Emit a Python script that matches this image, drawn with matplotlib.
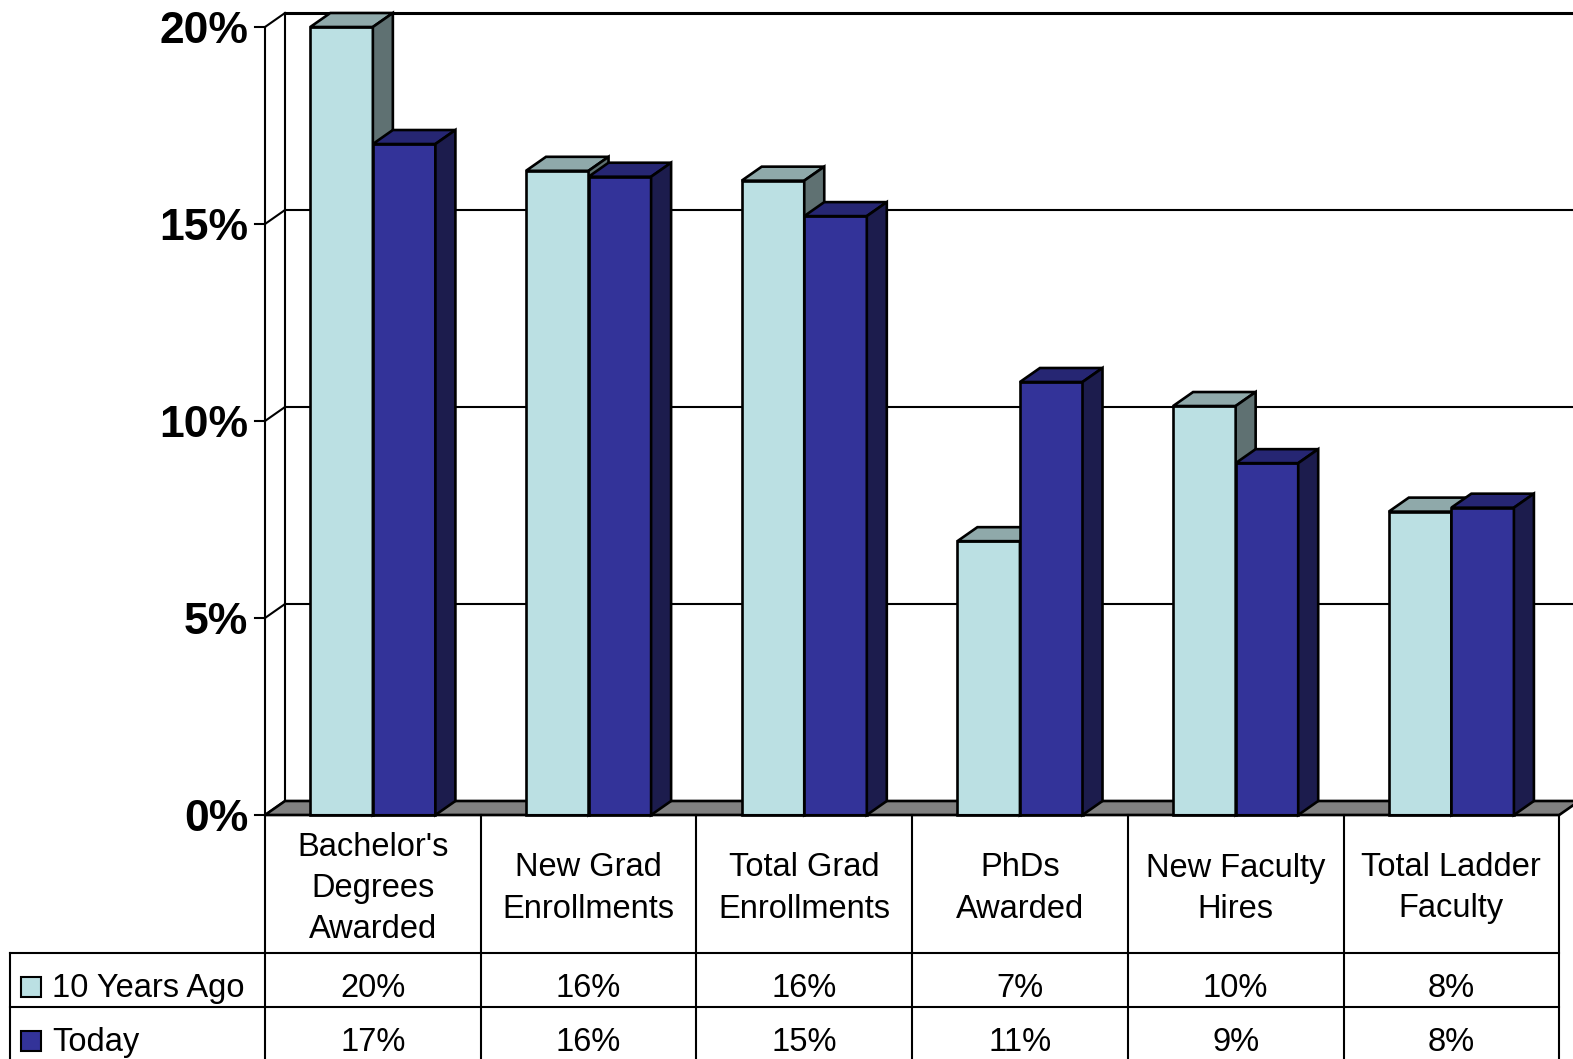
import matplotlib.pyplot as plt
from matplotlib.patches import Polygon, Rectangle

plt.rcParams['font.family'] = ['Liberation Sans', 'DejaVu Sans']

# data (percent)
categories = ["Bachelor's\nDegrees\nAwarded", "New Grad\nEnrollments", "Total Grad\nEnrollments",
              "PhDs\nAwarded", "New Faculty\nHires", "Total Ladder\nFaculty"]
series_names = ["10 Years Ago", "Today"]
ten_years_ago = [20.0, 16.35, 16.1, 6.95, 10.38, 7.7]
today = [17.03, 16.2, 15.2, 10.99, 8.93, 7.8]
y_ticks = [0, 5, 10, 15, 20]
y_tick_labels = ["0%", "5%", "10%", "15%", "20%"]

# colours: front, top, side
light = ("#bbe0e3", "#8fa9aa", "#5f7172")
dark = ("#333399", "#262673", "#1c1c4d")
floor_color = "#808080"

# layout in pixels
W, H = 1573, 1059
X0, CW = 265.0, 215.7      # left of plot, width of one category
Y0, PPP = 815.0, 39.4      # pixel row of 0%, pixels per percent
DX, DY = 20, 14            # depth offset of the 3d effect
LW = 1.5
BAR_LW = 1.9

fig = plt.figure(figsize=(W / 100, H / 100), dpi=100, facecolor="white")
ax = fig.add_axes([0, 0, 1, 1])
ax.set_xlim(-0.5 - X0 / CW, -0.5 + (W - X0) / CW)
ax.set_ylim(-(H - Y0) / PPP, Y0 / PPP)
ax.axis("off")

ddx = DX / CW
ddy = DY / PPP
n = len(categories)
left, right = -0.5, n - 0.5
top = max(y_ticks)
bw = 0.29

# left wall and back wall gridlines
ax.plot([left, left], [0, top], color="k", lw=LW, zorder=1)
ax.plot([left + ddx, left + ddx], [ddy, top + ddy], color="k", lw=LW, zorder=1)
for v in y_ticks:
    ax.plot([left, left + ddx], [v, v + ddy], color="k", lw=LW, zorder=1)
    ax.plot([left + ddx, right + ddx], [v + ddy, v + ddy], color="k",
            lw=2.2 if v == top else LW, zorder=1)
    ax.plot([left - 10 / CW, left], [v, v], color="k", lw=LW, zorder=1)
for v, lbl in zip(y_ticks, y_tick_labels):
    ax.annotate(lbl, xy=(left, v), xytext=(-17, 0), textcoords="offset pixels",
                ha="right", va="center_baseline", fontsize=32, fontweight="bold")

# floor
ax.add_patch(Polygon([(left, 0), (left + ddx, ddy), (right + ddx, ddy), (right, 0)],
                     closed=True, fc=floor_color, ec="k", lw=BAR_LW, zorder=1.5))


def draw_bar(x, h, colors):
    front, topc, side = colors
    ax.add_patch(Rectangle((x, 0), bw, h, fc=front, ec="k", lw=BAR_LW, zorder=2))
    ax.add_patch(Polygon([(x, h), (x + ddx, h + ddy), (x + bw + ddx, h + ddy), (x + bw, h)],
                         closed=True, fc=topc, ec="k", lw=BAR_LW, zorder=2))
    ax.add_patch(Polygon([(x + bw, 0), (x + bw + ddx, ddy), (x + bw + ddx, h + ddy), (x + bw, h)],
                         closed=True, fc=side, ec="k", lw=BAR_LW, zorder=2))


for i, (a, b) in enumerate(zip(ten_years_ago, today)):
    draw_bar(i - bw, a, light)
    draw_bar(i, b, dark)

# data table below the chart, in pixel coordinates
tab = fig.add_axes([0, 0, 1, 1])
tab.set_xlim(0, W)
tab.set_ylim(H, 0)
tab.axis("off")
tab.patch.set_alpha(0)

x_right = X0 + n * CW
row_tops = [953, 1007, 1061]
tab.plot([X0, x_right], [Y0, Y0], color="k", lw=LW)
for y in row_tops:
    tab.plot([10, x_right], [y, y], color="k", lw=LW)
tab.plot([10, 10], [row_tops[0], H + 5], color="k", lw=LW)
for i in range(n + 1):
    xc = X0 + i * CW
    tab.plot([xc, xc], [Y0, H + 5], color="k", lw=LW)

FS = 23.5
LINE = 41
for i, cat in enumerate(categories):
    xc = X0 + (i + 0.5) * CW
    lines = cat.split("\n")
    for j, line in enumerate(lines):
        yb = 897 + (j - (len(lines) - 1) / 2) * LINE
        tab.text(xc, yb, line, ha="center", va="baseline", fontsize=FS)

for r, (name, vals, colors) in enumerate(zip(series_names, [ten_years_ago, today], [light, dark])):
    yb = row_tops[r] + 44
    tab.add_patch(Rectangle((21, yb - 20), 20, 20, fc=colors[0], ec="k", lw=LW))
    tab.text(52, yb, name, ha="left", va="baseline", fontsize=FS)
    for i, v in enumerate(vals):
        xc = X0 + (i + 0.5) * CW
        tab.text(xc, yb, f"{v:.0f}%", ha="center", va="baseline", fontsize=FS)

fig.savefig("out.png", dpi=100, facecolor="white")
